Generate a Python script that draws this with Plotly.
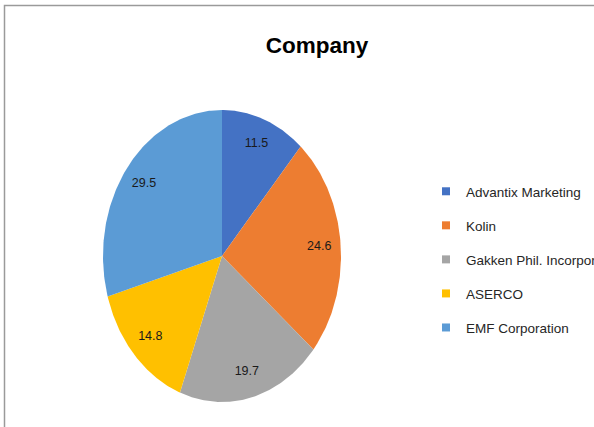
import numpy as np
import plotly.graph_objects as go

companies = ["Advantix Marketing", "Kolin", "Gakken Phil. Incorporated", "ASERCO", "EMF Corporation"]
values = [11.5, 24.6, 19.7, 14.8, 29.5]
labels = ["11.5", "24.6", "19.7", "14.8", "29.5"]
colors = ["#4472C4", "#ED7D31", "#A5A5A5", "#FFC000", "#5B9BD5"]

W, H = 594, 427
FONT = "Liberation Sans, Arial, sans-serif"

fig = go.Figure()

total = sum(values)
cum = np.cumsum([0] + values) / total
label_r = 0.82
lx, ly = [], []
for i, name in enumerate(companies):
    t = np.linspace(cum[i], cum[i + 1], 120) * 2 * np.pi
    xs = np.concatenate([[0], np.sin(t), [0]])
    ys = np.concatenate([[0], np.cos(t), [0]])
    fig.add_trace(go.Scatter(
        x=xs, y=ys, mode="lines", fill="toself", fillcolor=colors[i],
        line=dict(width=0, color=colors[i]), showlegend=False, hoverinfo="skip"))
    m = (cum[i] + cum[i + 1]) / 2 * 2 * np.pi
    lx.append(label_r * np.sin(m))
    ly.append(label_r * np.cos(m))

fig.add_trace(go.Scatter(
    x=lx, y=ly, mode="text", text=labels, showlegend=False,
    textfont=dict(family=FONT, size=12.5, color="#1a1a1a"), hoverinfo="skip"))

# legend entries
for i, name in enumerate(companies):
    fig.add_trace(go.Scatter(
        x=[None], y=[None], mode="markers", name=name, legendgroup=str(i),
        marker=dict(symbol="square", size=8, color=colors[i])))

fig.update_layout(
    width=W, height=H,
    margin=dict(l=0, r=0, t=0, b=0, autoexpand=False),
    paper_bgcolor="white", plot_bgcolor="rgba(0,0,0,0)",
    xaxis=dict(domain=[103 / W, 341 / W], range=[-1, 1], visible=False, fixedrange=True),
    yaxis=dict(domain=[(H - 402) / H, (H - 110) / H], range=[-1, 1], visible=False, fixedrange=True),
    title=dict(text="<b>Company</b>", x=317 / W, xanchor="center", y=1 - 45 / H, yanchor="middle",
               font=dict(family=FONT, size=22.5, color="#000000")),
    legend=dict(x=426 / W, xanchor="left", y=1 - 176 / H, yanchor="top",
                font=dict(family=FONT, size=13.5, color="#262626"),
                itemwidth=30, tracegroupgap=13.5, bgcolor="rgba(0,0,0,0)"),
    shapes=[dict(type="rect", xref="paper", yref="paper",
                 x0=4.5 / W, x1=1.2, y0=-0.2, y1=1 - 5.5 / H,
                 line=dict(color="#9a9a9a", width=1.5), layer="below")],
    showlegend=True,
)

fig.write_html("out.html", config={"displayModeBar": False},
               post_script="document.body.style.margin='0px';")
